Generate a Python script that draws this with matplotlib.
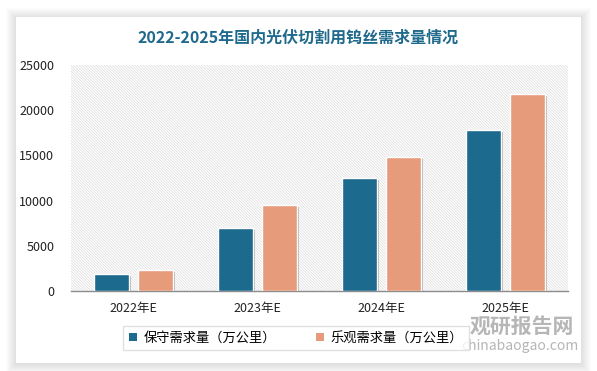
import numpy as np
import matplotlib.pyplot as plt
from matplotlib.patches import Rectangle
import matplotlib.patheffects as pe

plt.rcParams['font.family'] = ['Noto Sans CJK SC', 'DejaVu Sans']
plt.rcParams['hatch.linewidth'] = 0.5

# data
years = ['2022年E', '2023年E', '2024年E', '2025年E']
conservative = [1850, 6950, 12500, 17800]
optimistic = [2300, 9500, 14800, 21800]
series_names = ['保守需求量（万公里）', '乐观需求量（万公里）']
colors = ['#1c6b8e', '#e69b7b']

W, H = 597, 371
fig = plt.figure(figsize=(W / 100, H / 100), dpi=100)
fig.patch.set_facecolor('white')

# white card with soft shadow
bg = fig.add_axes([0, 0, 1, 1])
bg.set_xlim(0, W)
bg.set_ylim(H, 0)
bg.axis('off')
cx, cy, cw, ch = 16, 17, 565, 346
for d in range(10, 0, -1):
    bg.add_patch(Rectangle((cx - d, cy - d + 1), cw + 2 * d, ch + 2 * d,
                           facecolor='#000000', alpha=0.012, edgecolor='none'))
bg.add_patch(Rectangle((cx, cy), cw, ch, facecolor='white', edgecolor='none'))

fig.text(0.5, 1 - 38 / H, '2022-2025年国内光伏切割用钨丝需求量情况',
         ha='center', va='center', fontsize=11.5, fontweight='bold',
         color='#1f6a8c')

# plot area
x0, x1, ytop, ybot = 71, 568, 65, 291
ax = fig.add_axes([x0 / W, 1 - ybot / H, (x1 - x0) / W, (ybot - ytop) / H])
ax.set_facecolor('white')
ax.add_patch(Rectangle((0, 0), 1, 1, transform=ax.transAxes, facecolor='white',
                       edgecolor='#dcdcdc', hatch='\\' * 12, lw=0, zorder=0))

x = np.arange(len(years))
bw = 0.28
off = 0.177
shadow = [pe.SimplePatchShadow(offset=(1.5, -1.5), shadow_rgbFace='#000000', alpha=0.25),
          pe.Normal()]
b1 = ax.bar(x - off, conservative, bw, color=colors[0], edgecolor='white', lw=1,
            label=series_names[0], zorder=3, path_effects=shadow)
b2 = ax.bar(x + off, optimistic, bw, color=colors[1], edgecolor='white', lw=1,
            label=series_names[1], zorder=3, path_effects=shadow)

ax.set_xlim(-0.5, 3.5)
ax.set_ylim(0, 25000)
ax.set_yticks(np.arange(0, 25001, 5000))
ax.set_xticks(x)
ax.set_xticklabels(years)
ax.tick_params(axis='both', length=0, labelsize=9, colors='#222222')
ax.tick_params(axis='y', pad=12)
ax.tick_params(axis='x', pad=8)
for s in ['top', 'right', 'left']:
    ax.spines[s].set_visible(False)
ax.spines['bottom'].set_color('#8c8c8c')
ax.spines['bottom'].set_linewidth(1)

leg = fig.legend(handles=[b1, b2], loc='center', ncol=2,
                 bbox_to_anchor=(296 / W, 1 - 338 / H),
                 fontsize=9.5, frameon=True, fancybox=False, edgecolor='#d9d9d9',
                 handlelength=0.6, handleheight=0.6, columnspacing=3.0,
                 borderpad=0.45, handletextpad=0.5, borderaxespad=0)
leg.get_frame().set_linewidth(1)
for h in leg.legend_handles:
    h.set_path_effects([])
    h.set_edgecolor('none')

# watermark
fig.text(522 / W, 1 - 326 / H, '观研报告网', ha='center', va='center', fontsize=15,
         fontweight='bold', color='#a9a9a9', alpha=0.85)
fig.text(520 / W, 1 - 346 / H, 'chinabaogao.com', ha='center', va='center',
         fontsize=10, color='#a9a9a9', alpha=0.85)

fig.savefig('out.png', dpi=100)
